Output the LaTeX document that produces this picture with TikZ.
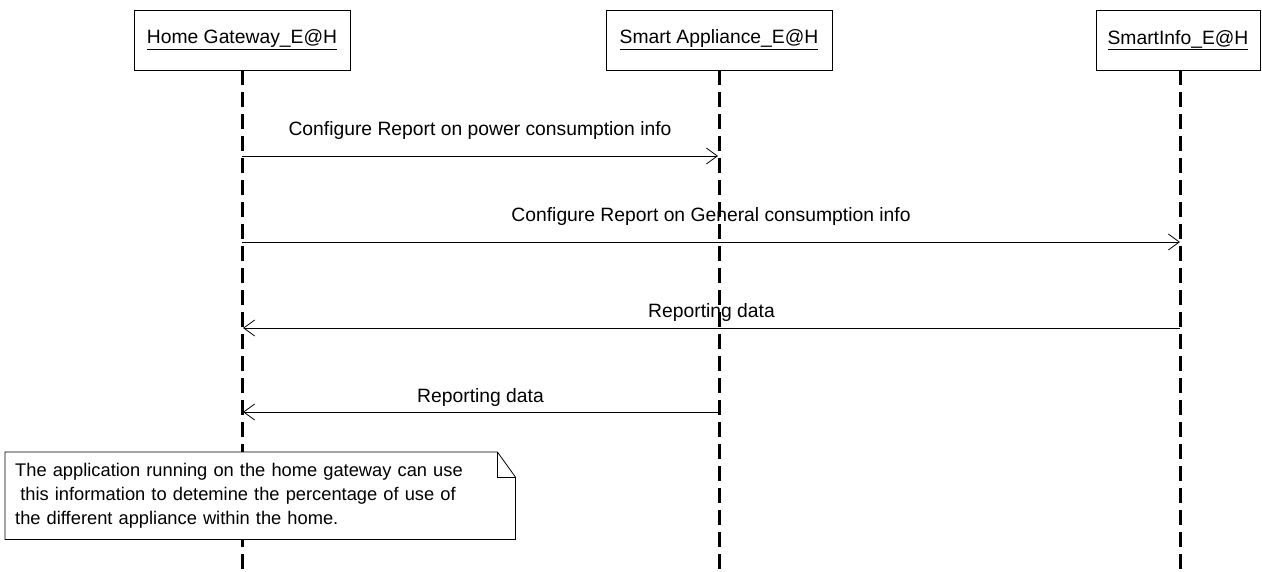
\documentclass[tikz,border=0pt]{standalone}
\usepackage{fontspec}
\setmainfont{Liberation Sans}
\usetikzlibrary{arrows.meta,calc}
\begin{document}
\begin{tikzpicture}[x=1pt,y=-1pt,
  every node/.style={font=\fontsize{19.3}{23}\selectfont},
  actor/.style={draw=black, line width=0.9pt, fill=white, minimum height=60pt, inner sep=0pt},
  lifeline/.style={line width=3pt, dash pattern=on 15pt off 7pt},
  msg/.style={line width=0.8pt, -{Straight Barb[length=11pt,width=16pt,line width=0.8pt]}},
  lbl/.style={inner sep=0pt, anchor=base},
  notebox/.style={font=\fontsize{18.3}{24}\selectfont, align=left, text width=490pt, inner xsep=10pt, inner ysep=0pt, minimum height=87pt, anchor=north west}
]
\useasboundingbox (0,0) rectangle (1262,572);

% actors
\node[actor, minimum width=216pt] (hg) at (242,40) {\underline{Home Gateway\_E@H}};
\node[actor, minimum width=226pt] (sa) at (719,40) {\underline{Smart Appliance\_E@H}};
\node[actor, minimum width=164pt] (si) at (1178,40) {\underline{SmartInfo\_E@H}};

% lifeline ends
\coordinate (hgE) at (242,572);
\coordinate (saE) at (719,572);
\coordinate (siE) at (1180,572);
\draw[lifeline] (hg.south) -- (hgE);
\draw[lifeline] (sa.south) -- (saE);
\draw[lifeline] (si.south -| siE) -- (siE);

% message points
\coordinate (h1) at (242,156); \coordinate (a1) at (718,156);
\coordinate (h2) at (242,242); \coordinate (i2) at (1180,242);
\coordinate (i3) at (1180,328); \coordinate (h3) at (243,328);
\coordinate (a4) at (718,412); \coordinate (h4) at (243,412);

\draw[msg] (h1) -- (a1) node[lbl, midway, yshift=20pt] {Configure Report on power consumption info};
\draw[msg] (h2) -- (i2) node[lbl, midway, yshift=20pt] {Configure Report on General consumption info};
\draw[msg] (i3) -- (h3) node[lbl, midway, yshift=10pt] {Reporting data};
\draw[msg] (a4) -- (h4) node[lbl, midway, yshift=10pt] {Reporting data};

% note
\node[notebox] (note) at (5,452) {\phantom{X}};
\fill[white] (note.north west) -- ($(note.north east)+(-18,0)$) -- ($(note.north east)+(0,25)$) -- (note.south east) -- (note.south west) -- cycle;
\draw[line width=0.8pt] (note.north west) -- ($(note.north east)+(-18,0)$) -- ($(note.north east)+(0,25)$) -- (note.south east) -- (note.south west) -- cycle;
\draw[line width=0.8pt] ($(note.north east)+(-18,0)$) -- ($(note.north east)+(-18,25)$) -- ($(note.north east)+(0,25)$);
\node[notebox] (notetext) at (5,452) {The application running on the home gateway can use\\
\hspace{0.28em}this information to detemine the percentage of use of\\
the different appliance within the home.};
\end{tikzpicture}
\end{document}
